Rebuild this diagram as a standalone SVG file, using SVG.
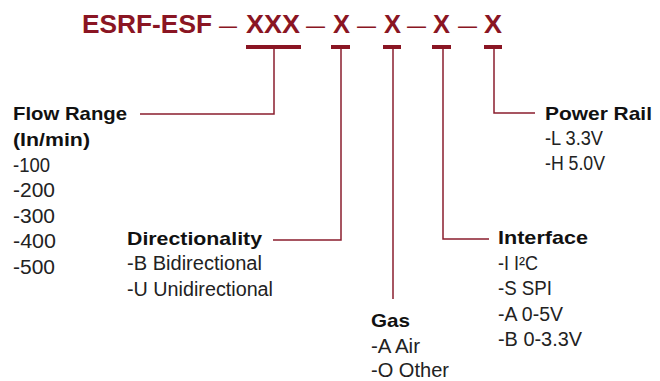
<svg xmlns="http://www.w3.org/2000/svg" width="660" height="381" viewBox="0 0 660 381">
<style>
.t{font-family:"Liberation Sans",Arial,sans-serif;font-weight:bold;font-size:25px;fill:#8a1523}
.d{font-family:"Liberation Sans",Arial,sans-serif;font-weight:normal;font-size:24px;fill:#8a1523}
.h{font-family:"Liberation Sans",Arial,sans-serif;font-weight:bold;font-size:18.5px;fill:#111}
.i{font-family:"Liberation Sans",Arial,sans-serif;font-weight:normal;font-size:19.5px;fill:#222}
.bar{fill:#8a1523}
.c{fill:none;stroke:#8a1e2e;stroke-width:1.5}
</style>
<rect width="660" height="381" fill="#fff"/>
<g id="title">
<text class="t" x="82" y="33" textLength="130" lengthAdjust="spacingAndGlyphs">ESRF-ESF</text>
<text class="d" x="219" y="33" textLength="18" lengthAdjust="spacingAndGlyphs">—</text>
<text class="t" x="246" y="33" textLength="54" lengthAdjust="spacingAndGlyphs">XXX</text>
<text class="d" x="306" y="33" textLength="19" lengthAdjust="spacingAndGlyphs">—</text>
<text class="t" x="333" y="33" textLength="17" lengthAdjust="spacingAndGlyphs">X</text>
<text class="d" x="357" y="33" textLength="19" lengthAdjust="spacingAndGlyphs">—</text>
<text class="t" x="384" y="33" textLength="17" lengthAdjust="spacingAndGlyphs">X</text>
<text class="d" x="407" y="33" textLength="19" lengthAdjust="spacingAndGlyphs">—</text>
<text class="t" x="433" y="33" textLength="17" lengthAdjust="spacingAndGlyphs">X</text>
<text class="d" x="458" y="33" textLength="19" lengthAdjust="spacingAndGlyphs">—</text>
<text class="t" x="484" y="33" textLength="18" lengthAdjust="spacingAndGlyphs">X</text>
<rect class="bar" x="246" y="45" width="55" height="4"/>
<rect class="bar" x="331" y="45" width="19" height="4"/>
<rect class="bar" x="383" y="45" width="18" height="4"/>
<rect class="bar" x="432" y="45" width="19" height="4"/>
<rect class="bar" x="484" y="45" width="18" height="4"/>
</g>
<g id="connectors">
<path class="c" d="M274 49V114H140"/>
<path class="c" d="M341 49V240H273"/>
<path class="c" d="M393 49V299"/>
<path class="c" d="M443 49V239H489"/>
<path class="c" d="M494 49V113H535"/>
</g>
<g id="flow-range">
<text class="h" x="13" y="120" textLength="114" lengthAdjust="spacingAndGlyphs">Flow Range</text>
<text class="h" x="13" y="146" textLength="77" lengthAdjust="spacingAndGlyphs">(In/min)</text>
<text class="i" x="13" y="172" textLength="37" lengthAdjust="spacingAndGlyphs">-100</text>
<text class="i" x="13" y="197" textLength="42" lengthAdjust="spacingAndGlyphs">-200</text>
<text class="i" x="13" y="223" textLength="42" lengthAdjust="spacingAndGlyphs">-300</text>
<text class="i" x="13" y="248" textLength="43" lengthAdjust="spacingAndGlyphs">-400</text>
<text class="i" x="13" y="274" textLength="42" lengthAdjust="spacingAndGlyphs">-500</text>
</g>
<g id="directionality">
<text class="h" x="127" y="245" textLength="135" lengthAdjust="spacingAndGlyphs">Directionality</text>
<text class="i" x="127" y="270" textLength="135" lengthAdjust="spacingAndGlyphs">-B Bidirectional</text>
<text class="i" x="127" y="296" textLength="146" lengthAdjust="spacingAndGlyphs">-U Unidirectional</text>
</g>
<g id="gas">
<text class="h" x="371" y="327" textLength="39" lengthAdjust="spacingAndGlyphs">Gas</text>
<text class="i" x="371" y="353" textLength="49" lengthAdjust="spacingAndGlyphs">-A Air</text>
<text class="i" x="371" y="377" textLength="78" lengthAdjust="spacingAndGlyphs">-O Other</text>
</g>
<g id="interface">
<text class="h" x="498" y="244" textLength="90" lengthAdjust="spacingAndGlyphs">Interface</text>
<text class="i" x="498" y="270" textLength="40" lengthAdjust="spacingAndGlyphs">-I I²C</text>
<text class="i" x="498" y="295" textLength="54" lengthAdjust="spacingAndGlyphs">-S SPI</text>
<text class="i" x="498" y="321" textLength="65" lengthAdjust="spacingAndGlyphs">-A 0-5V</text>
<text class="i" x="498" y="346" textLength="84" lengthAdjust="spacingAndGlyphs">-B 0-3.3V</text>
</g>
<g id="power-rail">
<text class="h" x="545" y="120" textLength="107" lengthAdjust="spacingAndGlyphs">Power Rail</text>
<text class="i" x="545" y="145" textLength="58" lengthAdjust="spacingAndGlyphs">-L 3.3V</text>
<text class="i" x="545" y="170" textLength="60" lengthAdjust="spacingAndGlyphs">-H 5.0V</text>
</g>
</svg>
